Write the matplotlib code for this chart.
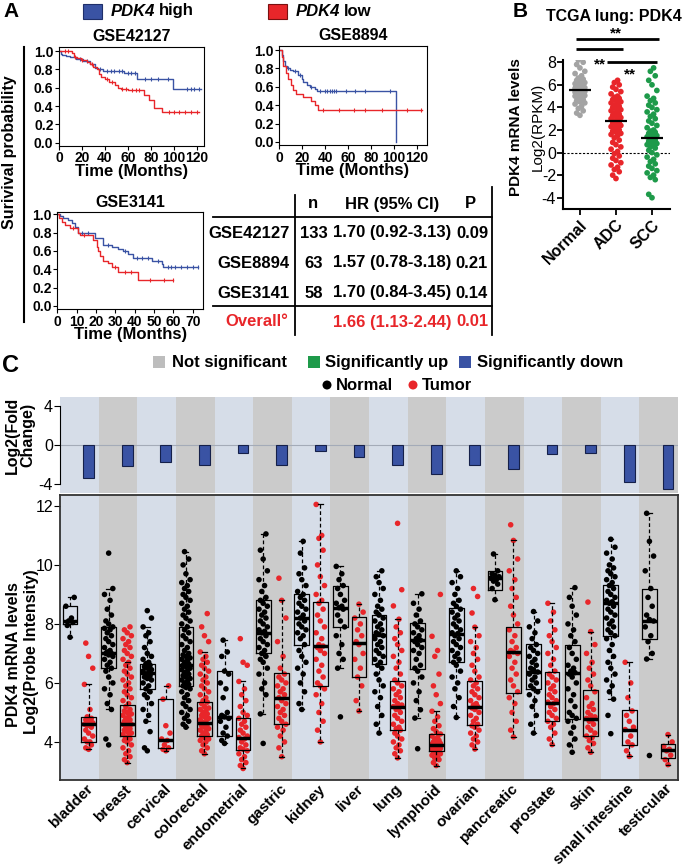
import matplotlib.pyplot as plt
import matplotlib.transforms as mtransforms
import numpy as np
from matplotlib.patches import Rectangle, Circle

plt.rcParams['font.family'] = ['Liberation Sans', 'DejaVu Sans']
plt.rcParams['axes.unicode_minus'] = False

# ---------------- panel A: Kaplan-Meier curves (months, survival) ----------------
g42127_hi_t = [0, 1.5, 3, 6, 10, 15, 21, 27, 31, 34, 38, 57, 68.4, 99.6]
g42127_hi_s = [1.0, 0.97, 0.955, 0.945, 0.93, 0.91, 0.89, 0.86, 0.82, 0.80, 0.78, 0.755, 0.69, 0.59]
g42127_hi_end = 124
g42127_hi_cens = [18, 24, 36, 42, 45, 48, 52, 55, 60, 63, 66, 75, 80, 86, 95, 112, 115, 118, 122]
g42127_lo_t = [0, 11, 12.8, 16, 19.5, 24, 27, 30, 33, 35, 37, 40, 44, 48.6, 51.5, 54, 60, 74, 78.6, 82.7, 90]
g42127_lo_s = [1.0, 0.98, 0.93, 0.92, 0.90, 0.88, 0.86, 0.83, 0.80, 0.75, 0.72, 0.69, 0.66, 0.63, 0.60,
               0.59, 0.57, 0.52, 0.47, 0.38, 0.33]
g42127_lo_end = 122
g42127_lo_cens = [5, 8, 14, 20, 29, 42, 46, 55, 58, 64, 67, 70, 96, 100, 105, 110, 115, 120]

g8894_hi_t = [0, 2, 3.5, 5, 6.4, 9.3, 12.2, 16.6, 19.5, 21, 24, 26.8, 31, 32.7, 102]
g8894_hi_s = [1.0, 0.95, 0.88, 0.83, 0.80, 0.78, 0.77, 0.73, 0.69, 0.65, 0.62, 0.60, 0.58, 0.55, 0.0]
g8894_hi_end = 102
g8894_hi_cens = [8, 14, 18, 28, 36, 40, 42, 44, 46, 48, 50, 58, 66, 75, 97]
g8894_lo_t = [0, 2, 3.5, 5.8, 7.9, 10, 12, 15, 21, 28, 31, 34]
g8894_lo_s = [1.0, 0.92, 0.83, 0.75, 0.68, 0.62, 0.57, 0.52, 0.49, 0.45, 0.40, 0.35]
g8894_lo_end = 124.5
g8894_lo_cens = [38, 52, 65, 75, 90, 112, 124]

g3141_hi_t = [0, 1.4, 3.1, 5.7, 7.4, 9.1, 10.9, 19.5, 23.8, 28.1, 31.6, 33.8, 36.7, 39.3, 48.8, 54.0, 54.8]
g3141_hi_s = [1.0, 0.98, 0.96, 0.94, 0.91, 0.86, 0.80, 0.74, 0.66, 0.64, 0.62, 0.60, 0.57, 0.52, 0.49,
              0.46, 0.42]
g3141_hi_end = 73
g3141_hi_cens = [13, 16, 26, 35, 41, 44, 47, 52, 57, 59, 61, 64, 67, 70, 73]
g3141_lo_t = [0, 1, 2.2, 4, 6.5, 10.9, 11.7, 18.6, 20.3, 21.2, 22.1, 23.8, 26.4, 28.1, 31.6, 41.9]
g3141_lo_s = [1.0, 0.96, 0.92, 0.88, 0.85, 0.80, 0.77, 0.72, 0.64, 0.60, 0.55, 0.49, 0.47, 0.43, 0.37, 0.28]
g3141_lo_end = 59.7
g3141_lo_cens = [8, 14, 30, 35, 38, 48, 55, 59.7]

table_sets = ['GSE42127', 'GSE8894', 'GSE3141']
table_n = ['133', '63', '58']
table_hr = ['1.70 (0.92-3.13)', '1.57 (0.78-3.18)', '1.70 (0.84-3.45)']
table_p = ['0.09', '0.21', '0.14']
overall_hr = '1.66 (1.13-2.44)'
overall_p = '0.01'

# ---------------- panel B: TCGA lung ----------------
b_groups = ['Normal', 'ADC', 'SCC']
b_normal = [3.3, 3.5, 3.7, 3.9, 4.1, 4.3, 4.4, 4.5, 4.6, 4.7, 4.8, 4.9, 5.0, 5.05, 5.1, 5.15, 5.2, 5.25, 5.3,
            5.35, 5.4, 5.45, 5.5, 5.55, 5.6, 5.65, 5.7, 5.75, 5.8, 5.85, 5.9, 6.0, 6.05, 6.1, 6.2, 6.3, 6.4,
            6.5, 6.6, 6.8, 7.0, 7.2, 7.5, 7.8, 8.0, 8.2]
b_adc = [-2.3, -2.0, -1.7, -1.5, -1.3, -1.1, -0.9, -0.7, -0.5, -0.3, -0.1, 0.1, 0.3, 0.5, 0.7, 0.9, 1.1,
         1.3, 1.5, 1.6, 1.7, 1.8, 1.9, 2.0, 2.1, 2.2, 2.3, 2.4, 2.5, 2.6, 2.7, 2.8, 2.9, 3.0, 3.1, 3.2, 3.3,
         3.4, 3.5, 3.6, 3.7, 3.8, 3.9, 4.0, 4.1, 4.2, 4.3, 4.4, 4.5, 4.6, 4.7, 4.8, 4.9, 5.0, 5.2, 5.4, 5.6,
         5.8, 6.0, 6.2, 6.4]
b_scc = [-4.0, -3.7, -2.4, -2.2, -2.0, -1.8, -1.6, -1.4, -1.2, -1.0, -0.8, -0.6, -0.4, -0.2, 0.0, 0.2, 0.4,
         0.5, 0.6, 0.7, 0.8, 0.9, 1.0, 1.1, 1.2, 1.3, 1.4, 1.5, 1.6, 1.7, 1.8, 1.9, 2.0, 2.2, 2.4, 2.6, 2.8,
         3.0, 3.2, 3.4, 3.6, 3.8, 4.0, 4.2, 4.4, 4.6, 4.8, 5.0, 5.5, 6.0, 6.4, 6.8, 7.2, 7.5]
b_means = [5.5, 2.8, 1.25]

# ---------------- panel C: pan-cancer ----------------
tissues = ['bladder', 'breast', 'cervical', 'colorectal', 'endometrial', 'gastric', 'kidney', 'liver',
           'lung', 'lymphoid', 'ovarian', 'pancreatic', 'prostate', 'skin', 'small intestine', 'testicular']
fold_change = [-3.4, -2.2, -1.7, -2.0, -0.8, -2.1, -0.6, -1.2, -2.0, -3.0, -2.1, -2.5, -0.9, -0.8, -3.8, -4.5]

n_lo = [7.55, 5.1, 4.7, 4.5, 3.95, 4.95, 5.1, 6.5, 4.3, 4.81, 4.83, 8.82, 4.3, 3.65, 5.45, 6.81]
n_q1 = [8.0, 6.5, 5.8, 5.9, 4.2, 7.0, 7.27, 7.9, 6.64, 6.48, 6.71, 9.16, 5.79, 4.78, 7.58, 7.5]
n_med = [8.1, 7.0, 6.35, 6.6, 4.85, 7.7, 8.2, 8.55, 7.61, 7.44, 7.67, 9.55, 6.37, 6.33, 8.7, 8.11]
n_q3 = [8.62, 7.9, 6.65, 7.9, 6.4, 8.8, 9.0, 9.3, 8.31, 8.03, 8.54, 9.8, 7.32, 7.27, 9.33, 9.2]
n_hi = [8.9, 9.2, 7.9, 10.45, 7.45, 11.05, 10.8, 9.95, 9.8, 9.02, 9.8, 10.37, 8.42, 9.23, 10.87, 11.75]

t_lo = [3.75, 3.3, 3.7, 3.6, 3.1, 3.5, 4.0, 5.05, 3.46, 3.2, 3.76, 4.17, 3.91, 3.65, 3.51, 3.23]
t_q1 = [4.0, 4.2, 3.8, 4.2, 3.72, 4.6, 5.9, 6.2, 4.42, 3.68, 4.56, 5.66, 4.7, 4.19, 3.88, 3.46]
t_med = [4.6, 4.6, 4.05, 4.65, 4.15, 5.5, 7.25, 7.37, 5.18, 3.91, 5.2, 7.05, 5.32, 4.78, 4.42, 3.74]
t_q3 = [4.85, 5.25, 5.45, 5.35, 4.8, 6.35, 8.75, 8.25, 6.05, 4.27, 6.05, 7.89, 6.36, 5.77, 5.09, 3.94]
t_hi = [5.95, 6.7, 5.9, 7.05, 6.05, 8.8, 12.05, 8.67, 8.16, 5.04, 7.89, 10.83, 8.7, 7.74, 6.7, 4.25]

bladder_n = [7.55, 7.95, 8.05, 8.1, 8.2, 8.6, 8.9]
bladder_t = [3.75, 3.8, 3.9, 4.0, 4.0, 4.1, 4.2, 4.3, 4.4, 4.5, 4.55, 4.6, 4.6, 4.65, 4.7, 4.75, 4.8, 4.85,
             5.1, 5.95, 6.5, 6.9, 7.35]
breast_n = [3.9, 4.1, 5.1, 5.3, 5.6, 5.8, 6.0, 6.2, 6.4, 6.5, 6.6, 6.7, 6.8, 6.9, 6.95, 7.0, 7.0, 7.05, 7.1,
            7.2, 7.3, 7.4, 7.5, 7.6, 7.7, 7.8, 7.85, 7.9, 8.0, 8.1, 8.3, 8.5, 8.8, 9.0, 9.2, 10.4]
breast_t = [3.3, 3.4, 3.5, 3.6, 3.7, 3.8, 3.9, 4.0, 4.05, 4.1, 4.15, 4.2, 4.25, 4.3, 4.35, 4.4, 4.45, 4.5,
            4.55, 4.6, 4.6, 4.65, 4.7, 4.75, 4.8, 4.85, 4.9, 4.95, 5.0, 5.05, 5.1, 5.2, 5.3, 5.4, 5.5, 5.6,
            5.7, 5.8, 5.9, 6.0, 6.1, 6.2, 6.3, 6.4, 6.5, 6.6, 6.7, 6.8, 6.9, 7.0, 7.1, 7.2, 7.3, 7.4, 7.5,
            7.6, 7.7, 7.8, 7.9]
cervical_n = [3.7, 3.8, 4.35, 4.7, 4.9, 5.1, 5.3, 5.5, 5.6, 5.7, 5.8, 5.9, 6.0, 6.1, 6.15, 6.2, 6.25, 6.3,
              6.35, 6.4, 6.45, 6.5, 6.55, 6.6, 6.65, 6.7, 6.8, 6.9, 7.0, 7.2, 7.4, 7.6, 7.7, 7.9, 8.2, 8.45]
cervical_t = [3.7, 3.75, 3.8, 3.9, 4.05, 4.1, 4.3, 4.55, 5.45, 5.9]
colorectal_n = [4.5, 4.6, 4.7, 4.8, 4.9, 5.0, 5.1, 5.2, 5.3, 5.4, 5.5, 5.6, 5.7, 5.8, 5.85, 5.9, 5.95, 6.0,
                6.05, 6.1, 6.15, 6.2, 6.25, 6.3, 6.35, 6.4, 6.45, 6.5, 6.55, 6.6, 6.65, 6.7, 6.75, 6.8,
                6.85, 6.9, 6.95, 7.0, 7.1, 7.2, 7.3, 7.4, 7.5, 7.6, 7.7, 7.8, 7.9, 8.0, 8.1, 8.2, 8.3, 8.4,
                8.5, 8.6, 8.7, 8.8, 8.9, 9.0, 9.1, 9.2, 9.3, 9.4, 9.5, 9.7, 10.0, 10.2, 10.45]
colorectal_t = [3.6, 3.7, 3.8, 3.9, 4.0, 4.05, 4.1, 4.15, 4.2, 4.25, 4.3, 4.35, 4.4, 4.45, 4.5, 4.55, 4.6,
                4.65, 4.7, 4.75, 4.8, 4.85, 4.9, 4.95, 5.0, 5.05, 5.1, 5.15, 5.2, 5.3, 5.35, 5.4, 5.5, 5.6,
                5.7, 5.8, 5.9, 6.0, 6.1, 6.2, 6.3, 6.4, 6.5, 6.6, 6.7, 6.8, 6.9, 7.05, 7.4, 7.6, 7.9, 8.35]
endometrial_n = [3.95, 4.05, 4.2, 4.3, 4.5, 4.7, 4.8, 4.85, 4.9, 5.0, 5.5, 5.8, 6.0, 6.3, 6.4, 6.9, 7.05, 7.45]
endometrial_t = [3.1, 3.2, 3.3, 3.4, 3.5, 3.6, 3.7, 3.75, 3.8, 3.9, 4.0, 4.1, 4.15, 4.2, 4.3, 4.4, 4.5, 4.6,
                 4.7, 4.8, 4.9, 5.0, 5.2, 5.4, 5.6, 5.8, 6.05, 6.6, 6.7, 7.5]
gastric_n = [3.95, 4.95, 5.6, 5.8, 6.0, 6.3, 6.5, 6.7, 6.8, 6.9, 7.0, 7.1, 7.2, 7.3, 7.4, 7.5, 7.6, 7.7, 7.75,
             7.8, 7.9, 8.0, 8.1, 8.2, 8.3, 8.4, 8.5, 8.6, 8.7, 8.8, 8.9, 9.1, 9.3, 9.5, 9.8, 10.2, 10.5, 11.05]
gastric_t = [3.5, 3.8, 4.0, 4.2, 4.4, 4.5, 4.6, 4.7, 4.8, 4.9, 5.0, 5.1, 5.2, 5.3, 5.4, 5.5, 5.6, 5.7, 5.8,
             5.9, 6.0, 6.1, 6.2, 6.3, 6.5, 6.9, 7.4, 8.2, 8.8, 9.55]
kidney_n = [5.1, 5.3, 5.7, 6.0, 6.3, 6.5, 6.7, 6.9, 7.1, 7.3, 7.5, 7.6, 7.7, 7.8, 7.9, 8.0, 8.1, 8.2, 8.3,
            8.4, 8.5, 8.6, 8.7, 8.8, 8.9, 9.0, 9.1, 9.3, 9.5, 9.7, 9.9, 10.4, 10.8]
kidney_t = [4.0, 4.4, 4.7, 5.0, 5.3, 5.6, 5.8, 5.9, 6.0, 6.2, 6.4, 6.6, 6.8, 7.0, 7.1, 7.2, 7.25, 7.3, 7.5,
            7.7, 7.9, 8.1, 8.3, 8.5, 8.7, 8.8, 9.0, 9.3, 9.6, 10.0, 10.5, 10.9, 11.0, 12.05]
liver_n = [4.85, 6.5, 6.8, 7.0, 7.3, 7.6, 7.9, 8.1, 8.3, 8.5, 8.55, 8.6, 8.7, 8.8, 9.0, 9.2, 9.3, 9.5, 9.7, 9.95]
liver_t = [5.05, 5.4, 5.9, 6.2, 6.5, 6.8, 7.0, 7.3, 7.4, 7.6, 7.8, 8.0, 8.2, 8.4, 8.67]
lung_n = [4.3, 4.6, 4.9, 5.2, 5.5, 5.7, 5.9, 6.1, 6.3, 6.5, 6.6, 6.7, 6.8, 6.9, 7.0, 7.1, 7.2, 7.3, 7.4, 7.5,
          7.6, 7.65, 7.7, 7.8, 7.9, 8.0, 8.1, 8.2, 8.3, 8.4, 8.5, 8.6, 8.8, 9.0, 9.2, 9.4, 9.6, 9.8]
lung_t = [3.46, 3.6, 3.7, 3.8, 3.9, 4.0, 4.1, 4.2, 4.3, 4.4, 4.45, 4.5, 4.6, 4.7, 4.8, 4.9, 5.0, 5.1, 5.15,
          5.2, 5.25, 5.3, 5.4, 5.5, 5.6, 5.7, 5.8, 5.9, 6.0, 6.1, 6.3, 6.5, 6.7, 6.9, 7.1, 7.3, 7.5, 7.7, 7.9,
          8.16, 8.61, 9.16, 11.41]
lymphoid_n = [3.77, 4.81, 5.09, 5.4, 5.7, 6.0, 6.2, 6.4, 6.5, 6.6, 6.8, 7.0, 7.1, 7.2, 7.3, 7.4, 7.45, 7.5,
              7.6, 7.7, 7.8, 7.9, 8.0, 8.1, 8.3, 8.5, 8.7, 9.02]
lymphoid_t = [3.2, 3.3, 3.4, 3.45, 3.5, 3.55, 3.6, 3.62, 3.65, 3.68, 3.7, 3.72, 3.75, 3.78, 3.8, 3.82, 3.85,
              3.88, 3.9, 3.92, 3.95, 3.98, 4.0, 4.05, 4.1, 4.15, 4.2, 4.27, 4.35, 4.45, 4.55, 4.7, 4.85,
              5.04, 5.3, 5.6, 5.9, 6.3, 6.9, 7.1, 7.58, 9.0]
ovarian_n = [4.83, 5.2, 5.5, 5.8, 6.0, 6.2, 6.4, 6.6, 6.7, 6.8, 6.9, 7.0, 7.1, 7.2, 7.3, 7.4, 7.5, 7.6, 7.67,
             7.7, 7.8, 7.9, 8.0, 8.1, 8.2, 8.3, 8.4, 8.5, 8.6, 8.7, 8.8, 9.0, 9.2, 9.4, 9.6, 9.8]
ovarian_t = [3.76, 3.9, 4.0, 4.1, 4.2, 4.3, 4.4, 4.5, 4.55, 4.6, 4.7, 4.8, 4.9, 5.0, 5.1, 5.15, 5.2, 5.25,
             5.3, 5.4, 5.5, 5.6, 5.7, 5.8, 5.9, 6.0, 6.1, 6.2, 6.4, 6.6, 6.8, 7.0, 7.2, 7.4, 7.6, 7.89, 8.37,
             8.93, 9.2]
pancreatic_n = [8.82, 9.2, 9.35, 9.45, 9.5, 9.55, 9.6, 9.65, 9.7, 9.8, 10.37]
pancreatic_t = [4.17, 4.4, 4.7, 5.0, 5.3, 5.5, 5.7, 5.9, 6.1, 6.3, 6.5, 6.7, 6.9, 7.0, 7.05, 7.1, 7.2, 7.4,
                7.6, 7.8, 8.0, 8.3, 8.6, 8.9, 9.2, 9.5, 9.8, 10.2, 10.83, 11.36]
prostate_n = [4.3, 4.6, 4.9, 5.2, 5.4, 5.6, 5.7, 5.8, 5.9, 6.0, 6.1, 6.2, 6.3, 6.37, 6.45, 6.5, 6.6, 6.7,
              6.8, 6.9, 7.0, 7.1, 7.2, 7.3, 7.5, 7.7, 7.9, 8.1, 8.42]
prostate_t = [3.91, 4.1, 4.3, 4.5, 4.6, 4.7, 4.8, 4.9, 5.0, 5.1, 5.2, 5.3, 5.35, 5.4, 5.5, 5.6, 5.7, 5.8,
              5.9, 6.0, 6.1, 6.2, 6.3, 6.4, 6.6, 6.8, 7.0, 7.2, 7.4, 7.6, 7.8, 8.1, 8.4, 8.7]
skin_n = [3.65, 3.9, 4.1, 4.3, 4.5, 4.7, 4.8, 4.9, 5.0, 5.2, 5.4, 5.6, 5.8, 6.0, 6.2, 6.3, 6.35, 6.4, 6.5,
          6.6, 6.8, 7.0, 7.2, 7.4, 7.6, 7.8, 8.0, 8.3, 8.6, 8.9, 9.23]
skin_t = [3.65, 3.8, 3.95, 4.05, 4.15, 4.2, 4.3, 4.4, 4.5, 4.6, 4.7, 4.75, 4.8, 4.85, 4.9, 5.0, 5.1, 5.2,
          5.3, 5.5, 5.7, 5.9, 6.1, 6.3, 6.5, 6.7, 7.0, 7.3, 7.74, 8.74]
small_int_n = [4.28, 4.9, 5.45, 5.7, 5.9, 6.1, 6.3, 6.5, 6.7, 6.9, 7.1, 7.3, 7.5, 7.6, 7.7, 7.8, 7.9, 8.0,
               8.1, 8.2, 8.3, 8.4, 8.5, 8.6, 8.7, 8.75, 8.8, 8.9, 9.0, 9.1, 9.2, 9.3, 9.4, 9.5, 9.6, 9.7,
               9.8, 9.9, 10.0, 10.2, 10.4, 10.6, 10.87]
small_int_t = [3.51, 3.7, 3.9, 4.0, 4.2, 4.42, 4.5, 4.7, 4.9, 5.05, 5.5, 6.0, 6.7]
testicular_n = [3.54, 6.81, 7.0, 7.4, 7.6, 7.9, 8.1, 8.15, 8.3, 8.6, 8.9, 9.2, 9.8, 10.3, 10.8, 11.75]
testicular_t = [3.23, 3.4, 3.55, 3.7, 3.75, 3.85, 4.0, 4.25]

normal_pts = [bladder_n, breast_n, cervical_n, colorectal_n, endometrial_n, gastric_n, kidney_n, liver_n,
              lung_n, lymphoid_n, ovarian_n, pancreatic_n, prostate_n, skin_n, small_int_n, testicular_n]
tumor_pts = [bladder_t, breast_t, cervical_t, colorectal_t, endometrial_t, gastric_t, kidney_t, liver_t,
             lung_t, lymphoid_t, ovarian_t, pancreatic_t, prostate_t, skin_t, small_int_t, testicular_t]

BLUE = '#3a53a4'
RED = '#e8262a'
GREEN = '#1e9a4a'
BAND_LIGHT = '#d6dde8'
BAND_GREY = '#cbcbcb'

W, H = 685, 867
fig = plt.figure(figsize=(W / 100, H / 100), dpi=100)
renderer = fig.canvas.get_renderer()


def px_axes(x0, y0, x1, y1):
    return fig.add_axes([x0 / W, 1 - y1 / H, (x1 - x0) / W, (y1 - y0) / H])


ov = fig.add_axes([0, 0, 1, 1])
ov.set_xlim(0, W)
ov.set_ylim(H, 0)
ov.axis('off')

JIT = np.array([0, -0.6, 0.6, -0.3, 0.3, -0.9, 0.9])


def jitter(center, values, spread):
    v = np.sort(np.asarray(values, float))
    return center + JIT[np.arange(len(v)) % len(JIT)] * spread, v


def bold_ticks(ax):
    for lab in ax.get_xticklabels() + ax.get_yticklabels():
        lab.set_fontweight('bold')


def km_panel(rect, title, curves, xticks, xmax, ytop):
    ax = px_axes(*rect)
    for t, s, tend, cens, col in curves:
        ax.step(list(t) + [tend], list(s) + [s[-1]], where='post', color=col, lw=1)
        idx = np.searchsorted(t, cens, side='right') - 1
        ax.plot(cens, np.array(s)[idx], ls='none', marker='|', ms=3.5, mew=0.8, color=col)
    ax.set_xlim(0, xmax)
    ax.set_ylim(-0.033, ytop)
    ax.set_xticks(xticks)
    ax.set_yticks([0, 0.2, 0.4, 0.6, 0.8, 1.0])
    ax.set_yticklabels(['0.0', '0.2', '0.4', '0.6', '0.8', '1.0'])
    ax.tick_params(labelsize=10, length=3, width=0.8, pad=1)
    bold_ticks(ax)
    for sp in ax.spines.values():
        sp.set_linewidth(0.8)
    ax.set_title(title, fontsize=11.5, fontweight='bold', pad=4)
    ax.set_xlabel('Time (Months)', fontsize=12, fontweight='bold', labelpad=-1)
    return ax


km_panel((59, 46.7, 204, 145.7), 'GSE42127',
         [(g42127_hi_t, g42127_hi_s, g42127_hi_end, g42127_hi_cens, BLUE),
          (g42127_lo_t, g42127_lo_s, g42127_lo_end, g42127_lo_cens, RED)],
         range(0, 121, 20), 126.4, 1.047)
km_panel((279.3, 45.7, 426.7, 145), 'GSE8894',
         [(g8894_hi_t, g8894_hi_s, g8894_hi_end, g8894_hi_cens, BLUE),
          (g8894_lo_t, g8894_lo_s, g8894_lo_end, g8894_lo_cens, RED)],
         range(0, 121, 20), 128.9, 1.047)
km_panel((57.3, 212.3, 203.3, 309), 'GSE3141',
         [(g3141_hi_t, g3141_hi_s, g3141_hi_end, g3141_hi_cens, BLUE),
          (g3141_lo_t, g3141_lo_s, g3141_lo_end, g3141_lo_cens, RED)],
         range(0, 71, 10), 75.5, 1.022)


def gene_label(x, y, word):
    t = ov.text(x, y, 'PDK4', fontsize=12, fontweight='bold', style='italic', va='center')
    bb = t.get_window_extent(renderer)
    ov.text(bb.x1 + 4, y, word, fontsize=12, fontweight='bold', va='center')


# panel A decorations
ov.text(3, 2, 'A', fontsize=15, fontweight='bold', va='top', ha='left')
ov.add_patch(Rectangle((83, 3.5), 19, 15, facecolor=BLUE, edgecolor='#1f2f6a', lw=0.8))
gene_label(111, 11, 'high')
ov.add_patch(Rectangle((268, 3.5), 19, 15, facecolor=RED, edgecolor='#7a1010', lw=0.8))
gene_label(296, 11, 'low')
ov.plot([24, 24], [47, 322], color='black', lw=1.5)
ov.text(10, 152, 'Surivival probability', fontsize=11.5, fontweight='bold', rotation=90,
        ha='center', va='center')

# survival table
tkw = dict(fontsize=12, fontweight='bold', va='center')
ov.text(313, 204, 'n', ha='center', **tkw)
ov.text(392, 204, 'HR (95% CI)', ha='center', **tkw)
ov.text(470, 204, 'P', ha='center', **tkw)
for k, yy in enumerate([233, 263, 293]):
    ov.text(290, yy, table_sets[k], ha='right', **tkw)
    ov.text(314, yy, table_n[k], ha='center', **tkw)
    ov.text(392, yy, table_hr[k], ha='center', **tkw)
    ov.text(472, yy, table_p[k], ha='center', **tkw)
ov.text(288, 321, 'Overall°', ha='right', color=RED, **tkw)
ov.text(392, 322, overall_hr, ha='center', color=RED, **tkw)
ov.text(472, 322, overall_p, ha='center', color=RED, **tkw)
ov.plot([213, 492], [216.7, 216.7], color='black', lw=1.3)
ov.plot([213, 492], [306, 306], color='black', lw=1.3)
ov.plot([295, 295], [195, 335], color='black', lw=1.3)
ov.plot([492, 492], [187, 335], color='black', lw=1.3)

# ---------------- panel B ----------------
axb = px_axes(563, 60, 670, 209)
b_cols = ['#a3a3a3', RED, GREEN]
for i, vals in enumerate([b_normal, b_adc, b_scc]):
    xs, ys = jitter(i, vals, 0.15)
    axb.scatter(xs, ys, s=17, color=b_cols[i], edgecolors='none', zorder=2)
    axb.hlines(b_means[i], i - 0.3, i + 0.3, color='black', lw=1.6, zorder=3)
axb.axhline(0, color='black', lw=0.8, ls=(0, (2, 1.5)), zorder=1)
axb.set_xlim(-0.47, 2.5)
axb.set_ylim(-5, 8.2)
axb.set_yticks([-4, -2, 0, 2, 4, 6, 8])
axb.set_xticks(range(3))
axb.set_xticklabels(b_groups, rotation=45, ha='right', rotation_mode='anchor',
                    fontsize=11.5, fontweight='bold')
axb.tick_params(axis='y', labelsize=11.5, length=4, width=1.3, pad=1)
axb.tick_params(axis='x', length=4, width=1.3, pad=2)
for side in ['top', 'right']:
    axb.spines[side].set_visible(False)
for side in ['left', 'bottom']:
    axb.spines[side].set_linewidth(1.5)
skw = dict(clip_on=False, color='black', lw=2, solid_capstyle='butt')
axb.plot([-0.11, 2.19], [10.03, 10.03], **skw)
axb.plot([-0.11, 1.19], [9.15, 9.15], **skw)
axb.plot([0.75, 2.14], [8.0, 8.0], **skw)
stkw = dict(ha='center', va='bottom', fontsize=11, fontweight='bold', clip_on=False)
axb.text(1.0, 9.95, '**', **stkw)
axb.text(0.56, 7.2, '**', **stkw)
axb.text(1.39, 6.3, '**', **stkw)

ov.text(513, 2, 'B', fontsize=15, fontweight='bold', va='top', ha='left')
ov.text(614, 17, 'TCGA lung: PDK4', fontsize=11.5, fontweight='bold', ha='center', va='center')
ov.text(516, 127, 'PDK4 mRNA levels', fontsize=11, fontweight='bold', rotation=90,
        ha='center', va='center')
ov.text(538, 127, 'Log2(RPKM)', fontsize=11, rotation=90, ha='center', va='center')

# ---------------- panel C ----------------
ov.text(2, 354, 'C', fontsize=17, fontweight='bold', va='top', ha='left')
lkw = dict(fontsize=12, fontweight='bold', va='center', ha='left')
ov.add_patch(Rectangle((153, 356), 12, 12, facecolor='#bdbdbd', edgecolor='none'))
ov.text(172, 362, 'Not significant', **lkw)
ov.add_patch(Rectangle((308, 356), 12, 12, facecolor=GREEN, edgecolor='none'))
ov.text(325, 362, 'Significantly up', **lkw)
ov.add_patch(Rectangle((459, 356), 12, 12, facecolor=BLUE, edgecolor='none'))
ov.text(477, 362, 'Significantly down', **lkw)
ov.add_patch(Circle((327, 385), 4.5, facecolor='black', edgecolor='none'))
ov.text(336, 385, 'Normal', **lkw)
ov.add_patch(Circle((413, 385), 4.5, facecolor=RED, edgecolor='none'))
ov.text(422, 385, 'Tumor', **lkw)

xpos = np.arange(len(tissues))
band_cols = [BAND_LIGHT if i % 2 == 0 else BAND_GREY for i in xpos]

# fold-change bars
axf = px_axes(60, 397, 678, 493)
for i in xpos:
    axf.axvspan(i - 0.5, i + 0.5, color=band_cols[i], lw=0, zorder=0)
axf.axhline(0, color='#a4abb8', lw=0.8, zorder=1)
axf.bar(xpos + 0.24, fold_change, width=0.28, color=BLUE, edgecolor='#15204a', lw=0.8, zorder=2)
axf.set_xlim(-0.5, len(tissues) - 0.5)
axf.set_ylim(-4.92, 4.92)
axf.set_xticks([])
axf.set_yticks([-4, 0, 4])
axf.tick_params(axis='y', labelsize=11.5, length=4, width=0.8, pad=1)
for side in ['top', 'right', 'bottom']:
    axf.spines[side].set_visible(False)
axf.spines['left'].set_bounds(-4, 4)
axf.spines['left'].set_linewidth(0.8)
ov.text(12, 435, 'Log2(Fold', fontsize=11.5, fontweight='bold', rotation=90, ha='center', va='center')
ov.text(28, 435, 'Change)', fontsize=11.5, fontweight='bold', rotation=90, ha='center', va='center')

# expression boxes
axc = px_axes(60, 495, 678, 780)
for i in xpos:
    axc.axvspan(i - 0.5, i + 0.5, color=band_cols[i], lw=0, zorder=0)
for i in xpos:
    xs, ys = jitter(i - 0.24, normal_pts[i], 0.12)
    axc.scatter(xs, ys, s=16, color='black', edgecolors='none', zorder=2)
    xs, ys = jitter(i + 0.24, tumor_pts[i], 0.12)
    axc.scatter(xs, ys, s=16, color=RED, edgecolors='none', zorder=2)

n_stats = [dict(med=n_med[i], q1=n_q1[i], q3=n_q3[i], whislo=n_lo[i], whishi=n_hi[i], fliers=[])
           for i in xpos]
t_stats = [dict(med=t_med[i], q1=t_q1[i], q3=t_q3[i], whislo=t_lo[i], whishi=t_hi[i], fliers=[])
           for i in xpos]
bkw = dict(widths=0.38, showfliers=False, capwidths=0.12, manage_ticks=False, zorder=3,
           boxprops=dict(color='black', lw=0.9),
           whiskerprops=dict(color='black', lw=0.9, ls=(0, (3, 2))),
           capprops=dict(color='black', lw=0.9),
           medianprops=dict(color='black', lw=2.5, solid_capstyle='butt'))
axc.bxp(n_stats, positions=xpos - 0.24, **bkw)
axc.bxp(t_stats, positions=xpos + 0.24, **bkw)
axc.set_xlim(-0.5, len(tissues) - 0.5)
axc.set_ylim(2.71, 12.37)
axc.set_yticks([4, 6, 8, 10, 12])
axc.tick_params(axis='y', labelsize=11.5, length=4, width=0.8, pad=1)
axc.set_xticks(xpos)
axc.set_xticklabels(tissues, rotation=45, ha='right', rotation_mode='anchor',
                    fontsize=11, fontweight='bold')
axc.tick_params(axis='x', length=0, pad=1)
shift = mtransforms.ScaledTranslation(7 / 100, 0, fig.dpi_scale_trans)
for lab in axc.get_xticklabels():
    lab.set_transform(lab.get_transform() + shift)
for sp in axc.spines.values():
    sp.set_linewidth(1.3)
    sp.set_color('#333333')
    sp.set_zorder(4)
ov.text(14, 655, 'PDK4 mRNA levels', fontsize=11.5, fontweight='bold', rotation=90, ha='center', va='center')
ov.text(32, 652, 'Log2(Probe Intensity)', fontsize=11.5, fontweight='bold', rotation=90,
        ha='center', va='center')

fig.savefig('out.png', dpi=100)
